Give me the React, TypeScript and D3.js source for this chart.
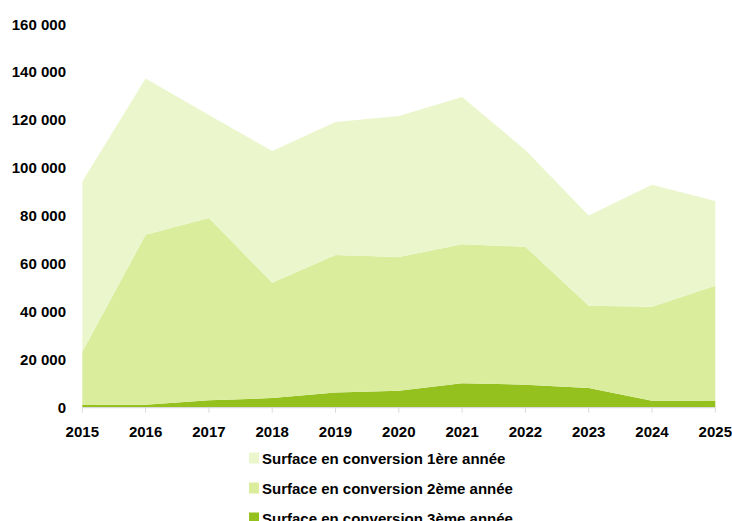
import React from "react";
import * as d3 from "d3";

const years = [2015, 2016, 2017, 2018, 2019, 2020, 2021, 2022, 2023, 2024, 2025];
const conv3 = [1100, 1250, 3100, 4000, 6300, 7100, 10200, 9600, 8200, 2900, 2800];
const conv2 = [22300, 70950, 76100, 48200, 57500, 55800, 58000, 57600, 34400, 39300, 48100];
const conv1 = [71000, 65300, 43000, 55000, 55500, 58900, 61500, 40400, 37600, 50900, 35400];
const seriesNames = [
  "Surface en conversion 1ère année",
  "Surface en conversion 2ème année",
  "Surface en conversion 3ème année",
];
const yTicks = [0, 20000, 40000, 60000, 80000, 100000, 120000, 140000, 160000];

const colors = { c1: "#EBF6CD", c2: "#D9ED9C", c3: "#95C11F" };

export default function App() {
  const W = 732, H = 521;
  const x = d3.scaleLinear().domain([2015, 2025]).range([82.3, 715.3]);
  const y = d3.scaleLinear().domain([0, 160000]).range([407.7, 24.5]);

  const rows = years.map((yr, i) => ({ year: yr, c3: conv3[i], c2: conv2[i], c1: conv1[i] }));
  const stack = d3.stack<any>().keys(["c3", "c2", "c1"]);
  const layers = stack(rows);
  const area = d3
    .area<any>()
    .x((d) => x(d.data.year))
    .y0((d) => y(d[0]))
    .y1((d) => y(d[1]));

  const fmt = (v: number) => d3.format(",")(v).replace(/,/g, " ");
  const font = "'Liberation Sans', Arial, sans-serif";
  const fs = 15;

  const legend = [
    { name: seriesNames[0], color: colors.c1 },
    { name: seriesNames[1], color: colors.c2 },
    { name: seriesNames[2], color: colors.c3 },
  ];

  return (
    <svg
      width={W}
      height={H}
      style={{ position: "absolute", left: 0, top: 0, background: "#fff" }}
    >
      {layers.map((layer) => (
        <path key={layer.key} d={area(layer as any) || ""} fill={(colors as any)[layer.key]} />
      ))}
      <line x1={x(2015)} x2={x(2025)} y1={y(0)} y2={y(0)} stroke="#D9D9D9" strokeWidth={1.2} />
      {years.map((yr) => (
        <g key={yr}>
          <line x1={x(yr)} x2={x(yr)} y1={y(0)} y2={y(0) + 5} stroke="#D9D9D9" strokeWidth={1} />
          <text
            x={x(yr)}
            y={437}
            textAnchor="middle"
            fontFamily={font}
            fontWeight="bold"
            fontSize={fs}
            fill="#000"
          >
            {yr}
          </text>
        </g>
      ))}
      {yTicks.map((t) => (
        <text
          key={t}
          x={66}
          y={y(t) + 5}
          textAnchor="end"
          fontFamily={font}
          fontWeight="bold"
          fontSize={fs}
          fill="#000"
        >
          {fmt(t)}
        </text>
      ))}
      {legend.map((l, i) => (
        <g key={l.name}>
          <rect x={249} y={452.5 + i * 30} width={10} height={11} fill={l.color} />
          <text
            x={262}
            y={463.5 + i * 30}
            fontFamily={font}
            fontWeight="bold"
            fontSize={fs}
            fill="#000"
          >
            {l.name}
          </text>
        </g>
      ))}
    </svg>
  );
}
